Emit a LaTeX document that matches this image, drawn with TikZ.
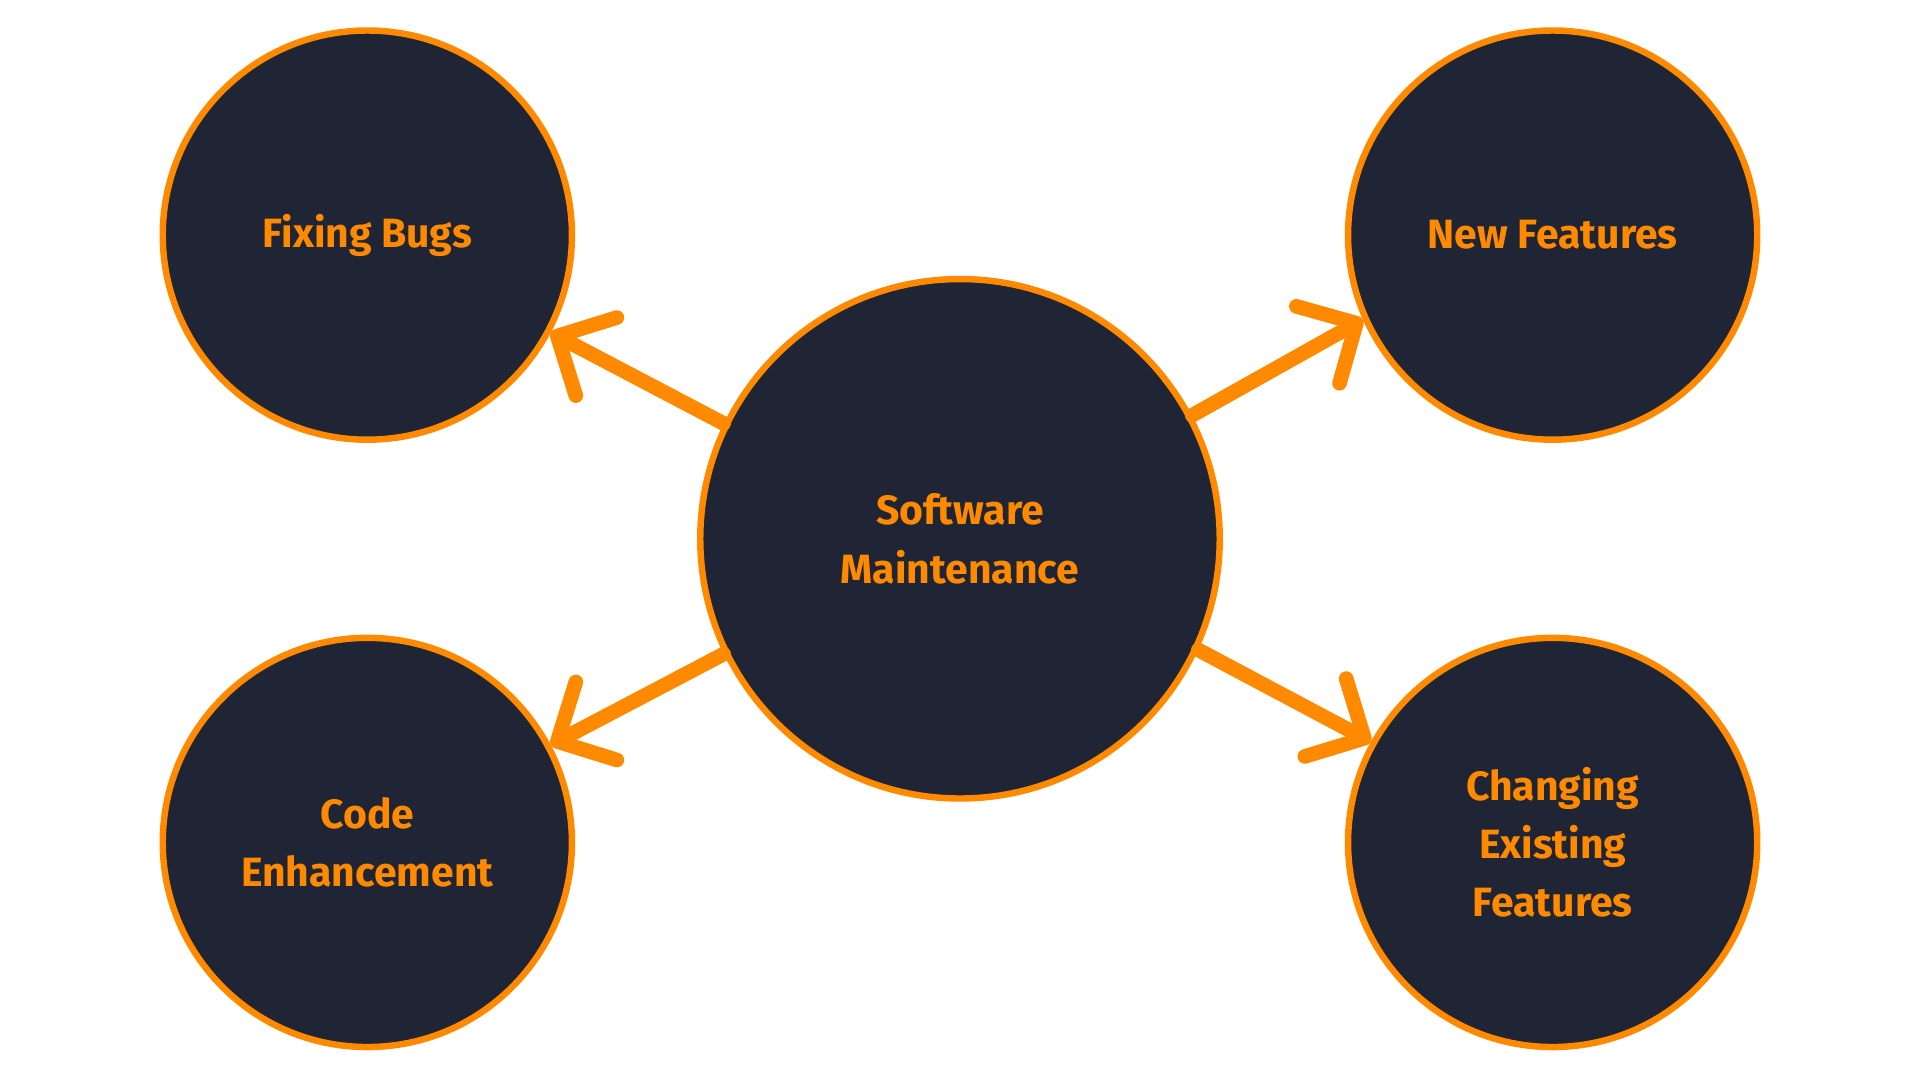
\documentclass[tikz,border=0pt]{standalone}
\usepackage{fontspec}
\setmainfont{Fira Sans}
\usetikzlibrary{arrows.meta}
\definecolor{navy}{HTML}{1F2535}
\definecolor{amber}{HTML}{FF8A00}
\begin{document}
\begin{tikzpicture}[x=0.01cm,y=-0.01cm,
  bubble/.style={circle, draw=amber, fill=navy, line width=1.5pt, inner sep=0pt,
    text=amber, font=\bfseries\fontsize{9.5}{13.5}\selectfont, align=center},
  link/.style={draw=amber, line width=3.4pt, line cap=round,
    -{Straight Barb[length=0.36cm,width=0.72cm,round]}}]

\useasboundingbox (0,0) rectangle (1568,882);

\node [bubble, minimum size=4.24cm] (soft) at (784,440) {Software\\Maintenance};
\node [bubble, minimum size=3.34cm] (bugs) at (300,192) {Fixing Bugs};
\node [bubble, minimum size=3.34cm] (newf) at (1268,192) {New Features};
\node [bubble, minimum size=3.34cm] (code) at (300,688) {Code\\Enhancement};
\node [bubble, minimum size=3.34cm] (chng) at (1268,688) {Changing\\Existing\\Features};

\draw [link] (soft.154) -- (bugs.-28);
\draw [link] (soft.28) -- (newf.204);
\draw [link] (soft.206) -- (code.28);
\draw [link] (soft.-25) -- (chng.151);

\end{tikzpicture}
\end{document}
